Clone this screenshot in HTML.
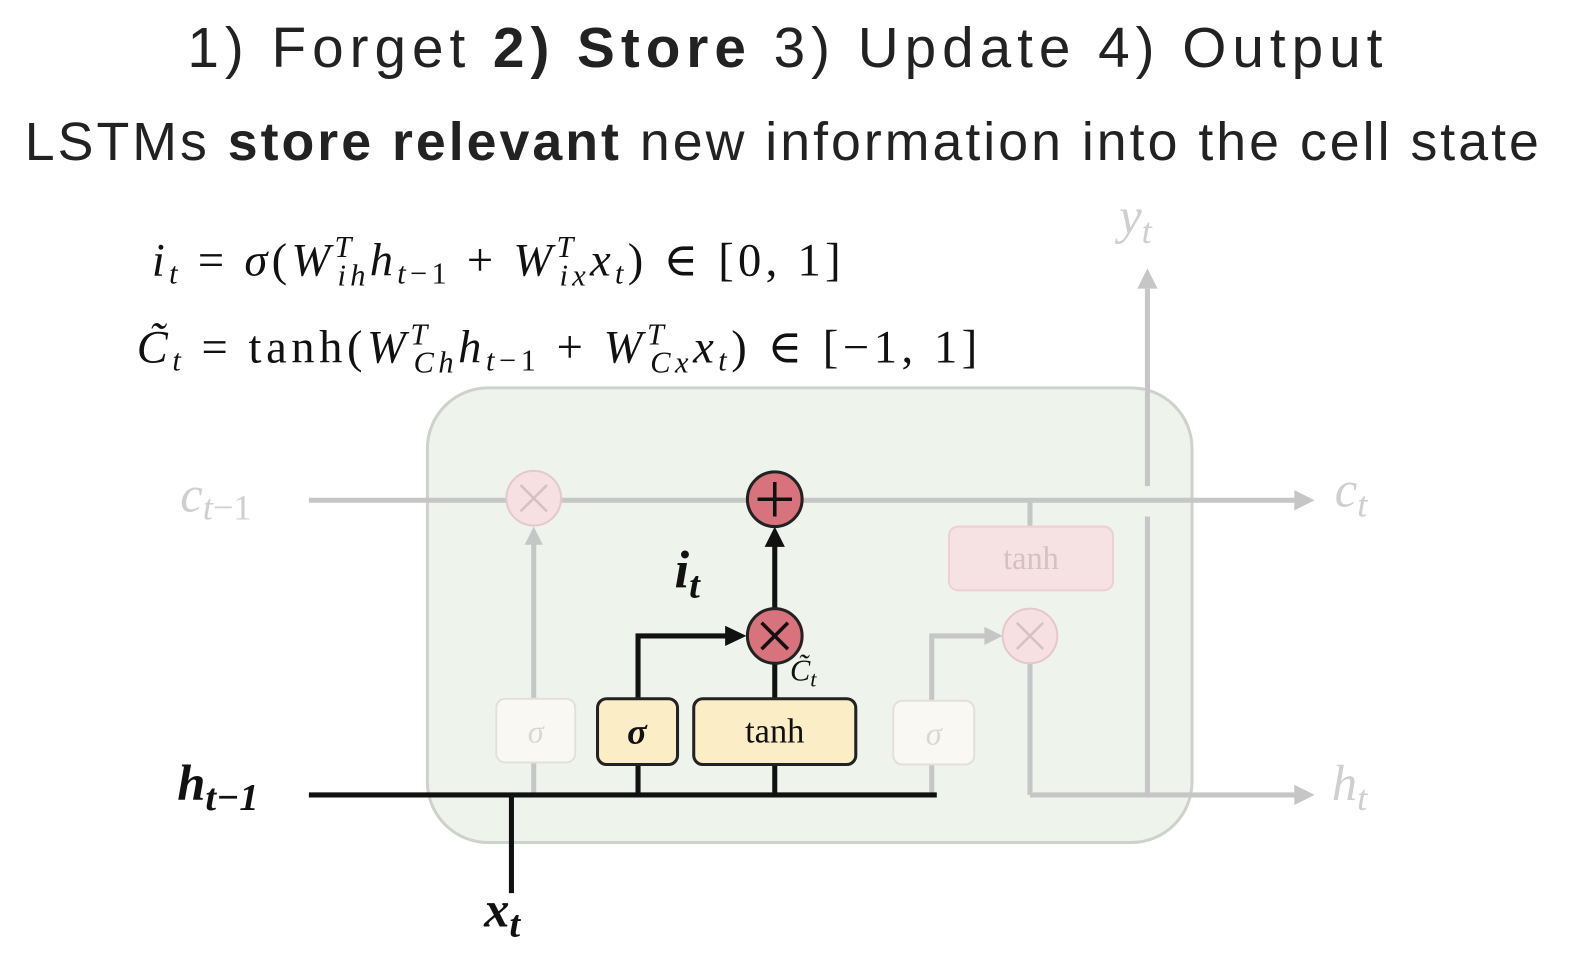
<!DOCTYPE html>
<html><head><meta charset="utf-8"><style>
html,body{margin:0;padding:0;background:#fff;}
svg{display:block;}
.t{font-family:"Liberation Sans",sans-serif;}
.m{font-family:"Liberation Serif","DejaVu Serif",serif;}
</style></head><body>
<svg width="1588" height="962" viewBox="0 0 1568 950" preserveAspectRatio="none" xmlns="http://www.w3.org/2000/svg">
<rect width="1568" height="950" fill="#fff"/>
<text class="t" x="185" y="66" font-size="56" fill="#222" textLength="1180" lengthAdjust="spacing">1) Forget   <tspan font-weight="bold">2) Store</tspan>   3) Update   4) Output</text>
<text class="t" x="772" y="158" font-size="53" text-anchor="middle" fill="#222" textLength="1495">LSTMs <tspan font-weight="bold">store relevant</tspan> new information into the cell state</text>

<text class="m" x="150" y="272" font-size="46" fill="#111" textLength="680" lengthAdjust="spacing"><tspan font-style="italic">i</tspan><tspan font-size="30" font-style="italic" dy="8">t</tspan><tspan dy="-8"> = </tspan><tspan font-style="italic">σ</tspan>(<tspan font-style="italic">W</tspan><tspan font-size="30" font-style="italic" dy="-18">T</tspan><tspan font-size="30" font-style="italic" dx="-18" dy="28">ih</tspan><tspan font-style="italic" dy="-10">h</tspan><tspan font-size="30" font-style="italic" dy="8">t</tspan><tspan font-size="30">−1</tspan><tspan dy="-8"> + </tspan><tspan font-style="italic">W</tspan><tspan font-size="30" font-style="italic" dy="-18">T</tspan><tspan font-size="30" font-style="italic" dx="-18" dy="28">ix</tspan><tspan font-style="italic" dy="-10">x</tspan><tspan font-size="30" font-style="italic" dy="8">t</tspan><tspan dy="-8">) ∈ [0, 1]</tspan></text>
<text class="m" x="135" y="358" font-size="46" fill="#111" textLength="830" lengthAdjust="spacing"><tspan font-style="italic">C̃</tspan><tspan font-size="30" font-style="italic" dy="8">t</tspan><tspan dy="-8"> = tanh(</tspan><tspan font-style="italic">W</tspan><tspan font-size="30" font-style="italic" dy="-18">T</tspan><tspan font-size="30" font-style="italic" dx="-18" dy="28">Ch</tspan><tspan font-style="italic" dy="-10">h</tspan><tspan font-size="30" font-style="italic" dy="8">t</tspan><tspan font-size="30">−1</tspan><tspan dy="-8"> + </tspan><tspan font-style="italic">W</tspan><tspan font-size="30" font-style="italic" dy="-18">T</tspan><tspan font-size="30" font-style="italic" dx="-18" dy="28">Cx</tspan><tspan font-style="italic" dy="-10">x</tspan><tspan font-size="30" font-style="italic" dy="8">t</tspan><tspan dy="-8">) ∈ [−1, 1]</tspan></text>

<rect x="422" y="383" width="755" height="449" rx="60" fill="#eef4ec" stroke="#cdd2cb" stroke-width="3"/>

<g stroke="#c6c6c6" stroke-width="5" fill="none">
<line x1="305" y1="494" x2="1282" y2="494"/>
<line x1="1017" y1="785" x2="1282" y2="785"/>
<line x1="527" y1="785" x2="527" y2="535"/>
<line x1="1133" y1="785" x2="1133" y2="510"/>
<line x1="1133" y1="480" x2="1133" y2="285"/>
<line x1="1017" y1="494" x2="1017" y2="520"/>
<line x1="1017" y1="655" x2="1017" y2="785"/>
<polyline points="920,785 920,628 975,628"/>
</g>
<g fill="#c6c6c6">
<polygon points="1298,494 1278,484 1278,504"/>
<polygon points="1298,785 1278,775 1278,795"/>
<polygon points="1133,265 1123,285 1143,285"/>
<polygon points="527,520 518,538 536,538"/>
<polygon points="990,628 972,619 972,637"/>
</g>
<circle cx="527" cy="492" r="27" fill="#f6e0e2" stroke="#e6c8cc" stroke-width="2"/>
<path d="M514,479 L540,505 M540,479 L514,505" stroke="#d5c0c3" stroke-width="2.5"/>
<circle cx="1017" cy="628" r="27" fill="#f6e0e2" stroke="#e6c8cc" stroke-width="2"/>
<path d="M1004,615 L1030,641 M1030,615 L1004,641" stroke="#d5c0c3" stroke-width="2.5"/>
<rect x="490" y="690" width="78" height="63" rx="9" fill="#faf8f2" stroke="#e3e0da" stroke-width="2"/>
<text class="m" x="529" y="733" font-size="32" font-style="italic" text-anchor="middle" fill="#d8d8d8">σ</text>
<rect x="882" y="692" width="80" height="63" rx="9" fill="#faf8f2" stroke="#e3e0da" stroke-width="2"/>
<text class="m" x="922" y="735" font-size="32" font-style="italic" text-anchor="middle" fill="#d8d8d8">σ</text>
<rect x="937" y="520" width="162" height="63" rx="9" fill="#f7e2e3" stroke="#ecd0d2" stroke-width="2"/>
<text class="m" x="1018" y="562" font-size="32" text-anchor="middle" fill="#d5c0c2">tanh</text>

<text class="m" x="178" y="505" font-size="50" font-style="italic" fill="#cfcfcf">c<tspan font-size="36" dy="8">t</tspan><tspan font-size="36" font-style="normal">−1</tspan></text>
<text class="m" x="1318" y="500" font-size="50" font-style="italic" fill="#cfcfcf">c<tspan font-size="36" dy="10">t</tspan></text>
<text class="m" x="1315" y="790" font-size="50" font-style="italic" fill="#cfcfcf">h<tspan font-size="36" dy="10">t</tspan></text>
<text class="m" x="1105" y="230" font-size="50" font-style="italic" fill="#cfcfcf">y<tspan font-size="36" dy="10">t</tspan></text>

<g stroke="#111" stroke-width="5" fill="none">
<line x1="305" y1="785" x2="925" y2="785"/>
<line x1="505" y1="785" x2="505" y2="882"/>
<line x1="630" y1="755" x2="630" y2="785"/>
<line x1="765" y1="755" x2="765" y2="785"/>
<polyline points="630,690 630,628 718,628"/>
<line x1="765" y1="690" x2="765" y2="655"/>
<line x1="765" y1="601" x2="765" y2="535"/>
</g>
<polygon points="737,628 716,618 716,638" fill="#111"/>
<polygon points="765,520 755,540 775,540" fill="#111"/>

<circle cx="765" cy="493" r="27" fill="#d8727d" stroke="#222" stroke-width="3"/>
<path d="M765,476 V510 M748,493 H782" stroke="#111" stroke-width="3.5"/>
<circle cx="765" cy="628" r="27" fill="#d8727d" stroke="#222" stroke-width="3"/>
<path d="M752,615 L778,641 M778,615 L752,641" stroke="#111" stroke-width="3.5"/>

<rect x="590" y="690" width="79" height="65" rx="9" fill="#fbeec6" stroke="#222" stroke-width="3"/>
<text class="m" x="629" y="734" font-size="36" font-weight="bold" font-style="italic" text-anchor="middle" fill="#111">σ</text>
<rect x="685" y="690" width="160" height="65" rx="9" fill="#fbeec6" stroke="#222" stroke-width="3"/>
<text class="m" x="765" y="733" font-size="34" text-anchor="middle" fill="#111">tanh</text>

<text class="m" x="666" y="580" font-size="52" font-weight="bold" font-style="italic" fill="#111">i<tspan font-size="38" dy="10">t</tspan></text>
<text class="m" x="780" y="672" font-size="30" font-style="italic" fill="#111">C̃<tspan font-size="22" dy="6">t</tspan></text>
<text class="m" x="175" y="790" font-size="50" font-weight="bold" font-style="italic" fill="#111">h<tspan font-size="38" dy="10">t−1</tspan></text>
<text class="m" x="478" y="915" font-size="50" font-weight="bold" font-style="italic" fill="#111">x<tspan font-size="38" dy="10">t</tspan></text>
</svg>
</body></html>
